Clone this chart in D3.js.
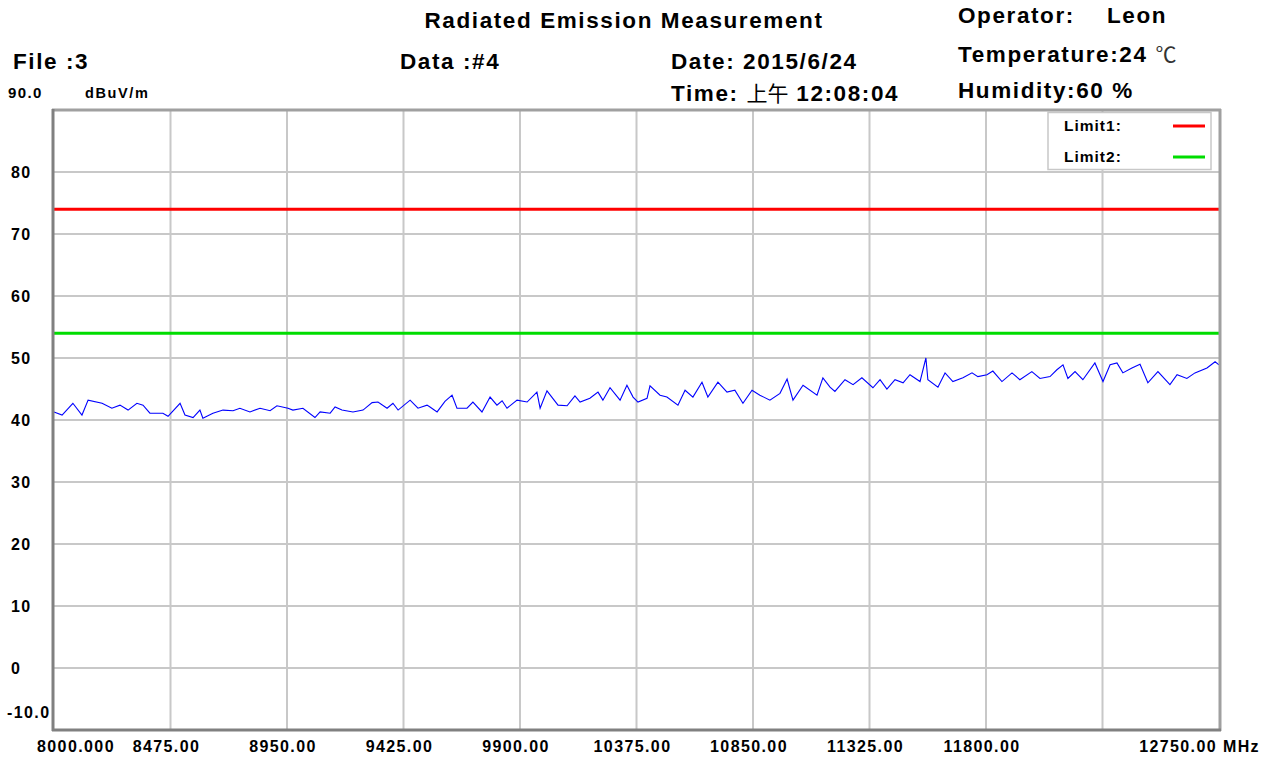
<!DOCTYPE html>
<html><head><meta charset="utf-8">
<script src="https://cdn.jsdelivr.net/npm/d3@7/dist/d3.min.js"></script>
<style>
body{margin:0;background:#fff;}
svg text{font-family:"Liberation Sans",Arial,sans-serif;}
</style></head>
<body>
<svg id="c" width="1273" height="758"></svg>
<script>
// ---- data ----
const freqs = [8000,8033,8077,8114,8139,8196,8236,8269,8302,8338,8363,8391,8444,8465,8514,8534,8567,8595,8607,8648,8689,8730,8758,8799,8840,8881,8909,8954,8974,9015,9064,9085,9126,9146,9174,9219,9260,9297,9321,9358,9382,9403,9452,9484,9521,9533,9562,9594,9623,9643,9684,9708,9745,9778,9806,9827,9847,9888,9929,9969,9982,10010,10055,10092,10124,10145,10185,10218,10238,10267,10308,10336,10361,10381,10418,10430,10471,10499,10544,10573,10605,10642,10666,10707,10744,10776,10809,10846,10878,10919,10960,10989,11013,11054,11111,11135,11164,11184,11225,11258,11294,11339,11368,11396,11429,11462,11490,11531,11555,11563,11604,11633,11665,11706,11743,11767,11804,11828,11865,11906,11938,11987,12020,12061,12089,12114,12134,12163,12195,12244,12277,12306,12334,12358,12395,12428,12460,12501,12550,12579,12619,12652,12701,12734,12750];
const levels = [41.3,40.8,42.7,40.8,43.2,42.7,41.9,42.4,41.6,42.7,42.4,41.1,41.1,40.6,42.7,40.8,40.4,41.6,40.3,41.1,41.6,41.5,41.9,41.3,41.9,41.5,42.3,41.9,41.6,41.9,40.4,41.3,41.1,42.1,41.6,41.3,41.6,42.8,42.9,41.9,42.7,41.6,43.2,41.9,42.4,42.1,41.3,43.0,44.0,41.9,41.9,42.9,41.3,43.7,42.4,43.1,41.9,43.2,42.9,44.5,41.9,44.7,42.4,42.3,43.9,42.9,43.5,44.5,43.2,45.2,43.2,45.6,43.7,42.9,43.5,45.5,44.0,43.7,42.4,44.8,43.7,46.1,43.7,46.1,44.5,44.8,42.7,44.8,44.0,43.2,44.3,46.6,43.2,45.6,44.0,46.8,45.3,44.6,46.5,45.7,46.8,45.2,46.5,45.0,46.5,46.0,47.3,46.2,50.0,46.5,45.3,47.6,46.2,46.8,47.6,47.0,47.3,47.9,46.2,47.6,46.5,47.8,46.7,47.0,48.1,48.9,46.7,47.8,46.5,49.2,46.2,48.9,49.2,47.6,48.4,49.0,46.0,47.8,45.7,47.3,46.7,47.6,48.4,49.4,48.9];
const limit1 = 74;
const limit2 = 54;
const xGridValues = [8000,8475,8950,9425,9900,10375,10850,11325,11800,12275,12750];
const xTickValues = [8000,8475,8950,9425,9900,10375,10850,11325,11800,12750];
const xTickLabels = ["8000.000","8475.00","8950.00","9425.00","9900.00","10375.00","10850.00","11325.00","11800.00","12750.00 MHz"];
const yTickValues = [80,70,60,50,40,30,20,10,0];
const yTickLabels = ["80","70","60","50","40","30","20","10","0"];
const yMinLabel = "-10.0", yMaxLabel = "90.0", yUnit = "dBuV/m";
const legendNames = ["Limit1:","Limit2:"];
const legendColors = ["#ff0000","#00dd00"];

// ---- chart ----
const svg = d3.select("#c");
const x = d3.scaleLinear().domain([8000,12750]).range([54,1219]);
const y = d3.scaleLinear().domain([-10,90]).range([730,110]);

// header
const hdr = svg.append("g").attr("font-weight","bold").attr("fill","#000").attr("font-size","22.5px").attr("letter-spacing","1.6px");
hdr.append("text").attr("x",624).attr("y",28).attr("text-anchor","middle").text("Radiated Emission Measurement");
hdr.append("text").attr("x",13).attr("y",69).text("File :3");
hdr.append("text").attr("x",400).attr("y",69).text("Data :#4");
hdr.append("text").attr("x",671).attr("y",69).text("Date: 2015/6/24");
const tm = hdr.append("text").attr("x",671).attr("y",101);
tm.append("tspan").text("Time: ");
tm.append("tspan").attr("font-weight","normal").attr("font-family","Noto Sans CJK TC").attr("font-size","21px").attr("letter-spacing","0px").text("上午");
tm.append("tspan").text(" 12:08:04");
const op = hdr.append("text").attr("x",958).attr("y",23);
op.append("tspan").text("Operator:");
op.append("tspan").attr("x",1107).text("Leon");
const tp = hdr.append("text").attr("x",958).attr("y",62);
tp.append("tspan").text("Temperature:24 ");
tp.append("tspan").attr("font-weight","normal").attr("font-family","Noto Sans CJK TC").attr("font-size","21px").attr("letter-spacing","0px").attr("fill","#333").text("℃");
hdr.append("text").attr("x",958).attr("y",98).text("Humidity:60 %");

// grid
const grid = svg.append("g").attr("stroke","#c8c8c8").attr("stroke-width",2);
grid.selectAll("line.v").data(xGridValues.slice(1,-1)).join("line")
  .attr("x1",d=>x(d)).attr("x2",d=>x(d)).attr("y1",y(90)).attr("y2",y(-10));
grid.selectAll("line.h").data(yTickValues).join("line")
  .attr("x1",x(8000)).attr("x2",x(12750)).attr("y1",d=>y(d)).attr("y2",d=>y(d));

// limit lines
svg.append("line").attr("x1",x(8000)).attr("x2",x(12750)).attr("y1",y(limit1)).attr("y2",y(limit1))
  .attr("stroke",legendColors[0]).attr("stroke-width",3);
svg.append("line").attr("x1",x(8000)).attr("x2",x(12750)).attr("y1",y(limit2)).attr("y2",y(limit2))
  .attr("stroke",legendColors[1]).attr("stroke-width",3);

// trace
const pts = freqs.map((f,i)=>[f,levels[i]]);
svg.append("path").datum(pts)
  .attr("d",d3.line().x(d=>x(d[0])).y(d=>y(d[1])))
  .attr("fill","none").attr("stroke","#0000ff").attr("stroke-width",1.1);

// legend
const lg = svg.append("g");
lg.append("rect").attr("x",1048).attr("y",112.5).attr("width",163).attr("height",57)
  .attr("fill","#fff").attr("stroke","#c8c8c8").attr("stroke-width",1.5);
legendNames.forEach((n,i)=>{
  lg.append("text").attr("x",1064).attr("y",131+i*31).attr("font-size","15.5px").attr("font-weight","bold")
    .attr("letter-spacing","1px").text(n);
  lg.append("line").attr("x1",1173).attr("x2",1205).attr("y1",126+i*31).attr("y2",126+i*31)
    .attr("stroke",legendColors[i]).attr("stroke-width",3);
});

// frame
const fr = svg.append("g").attr("fill","none");
fr.append("line").attr("x1",52).attr("x2",1221).attr("y1",110).attr("y2",110).attr("stroke","#a0a0a0").attr("stroke-width",3);
fr.append("line").attr("x1",1220).attr("x2",1220).attr("y1",109).attr("y2",731).attr("stroke","#a0a0a0").attr("stroke-width",3);
fr.append("line").attr("x1",53).attr("x2",53).attr("y1",109).attr("y2",731).attr("stroke","#808080").attr("stroke-width",3);
fr.append("line").attr("x1",52).attr("x2",1221).attr("y1",730).attr("y2",730).attr("stroke","#808080").attr("stroke-width",3);

// axis labels
const ax = svg.append("g").attr("font-weight","bold").attr("font-size","16px").attr("fill","#000").attr("letter-spacing","1.4px");
ax.selectAll("text.yl").data(yTickValues).join("text")
  .attr("x",11).attr("y",d=>y(d)+6).text((d,i)=>yTickLabels[i]);
ax.append("text").attr("x",7).attr("y",718).text(yMinLabel);
ax.append("text").attr("x",8).attr("y",98).attr("font-size","15px").text(yMaxLabel);
ax.append("text").attr("x",85).attr("y",98).attr("font-size","14.5px").attr("letter-spacing","1.6px").text(yUnit);
ax.selectAll("text.xl").data(xTickValues).join("text")
  .attr("x",(d,i)=> i===0 ? x(d)-17 : (i===xTickValues.length-1 ? x(d)+41 : x(d)-4))
  .attr("y",752)
  .attr("text-anchor",(d,i)=> i===0 ? "start" : (i===xTickValues.length-1 ? "end" : "middle"))
  .text((d,i)=>xTickLabels[i]);
</script>
</body></html>
